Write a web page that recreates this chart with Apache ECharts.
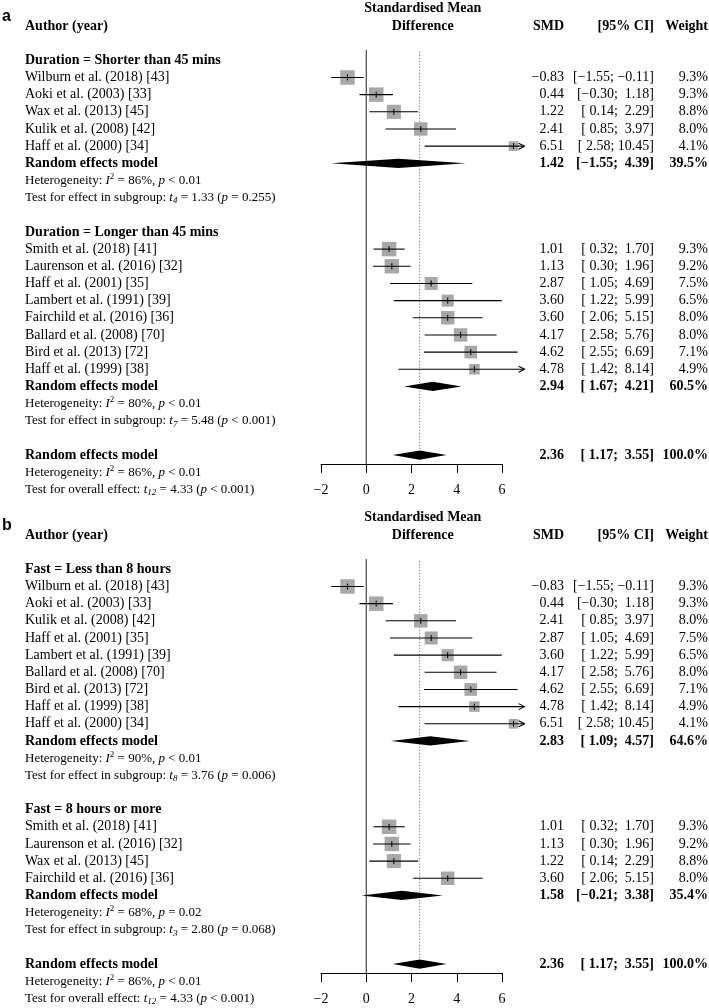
<!DOCTYPE html>
<html><head><meta charset="utf-8">
<script src="https://cdn.jsdelivr.net/npm/echarts@6/dist/echarts.min.js"></script>
<style>html,body{margin:0;padding:0;background:#fff}#c{width:709px;height:1008px}</style>
</head><body><div id="c"></div>
<script>
// ---------- data ----------
const studyNames = ['Wilburn et al. (2018) [43]','Aoki et al. (2003) [33]','Wax et al. (2013) [45]','Kulik et al. (2008) [42]','Haff et al. (2000) [34]','Smith et al. (2018) [41]','Laurenson et al. (2016) [32]','Haff et al. (2001) [35]','Lambert et al. (1991) [39]','Fairchild et al. (2016) [36]','Ballard et al. (2008) [70]','Bird et al. (2013) [72]','Haff et al. (1999) [38]'];
const studySMD    = [-0.83, 0.44, 1.22, 2.41, 6.51, 1.01, 1.13, 2.87, 3.60, 3.60, 4.17, 4.62, 4.78];
const studyLow    = [-1.55,-0.30, 0.14, 0.85, 2.58, 0.32, 0.30, 1.05, 1.22, 2.06, 2.58, 2.55, 1.42];
const studyHigh   = [-0.11, 1.18, 2.29, 3.97,10.45, 1.70, 1.96, 4.69, 5.99, 5.15, 5.76, 6.69, 8.14];
const studyWeight = [ 9.3, 9.3, 8.8, 8.0, 4.1, 9.3, 9.2, 7.5, 6.5, 8.0, 8.0, 7.1, 4.9];

// panel a subgroups
const groupLabelsA  = ['Duration = Shorter than 45 mins','Duration = Longer than 45 mins'];
const groupMembersA = [[0,1,2,3,4],[5,6,7,8,9,10,11,12]];
const groupSMDA  = [1.42, 2.94];
const groupLowA  = [-1.55, 1.67];
const groupHighA = [4.39, 4.21];
const groupWA    = [39.5, 60.5];
const groupI2A   = [86, 80];
const groupHetPA = ['< 0.01','< 0.01'];
const groupDfA   = [4, 7];
const groupTA    = [1.33, 5.48];
const groupTPA   = ['= 0.255','< 0.001'];

// panel b subgroups
const groupLabelsB  = ['Fast = Less than 8 hours','Fast = 8 hours or more'];
const groupMembersB = [[0,1,3,7,8,10,11,12,4],[5,6,2,9]];
const groupSMDB  = [2.83, 1.58];
const groupLowB  = [1.09, -0.21];
const groupHighB = [4.57, 3.38];
const groupWB    = [64.6, 35.4];
const groupI2B   = [90, 68];
const groupHetPB = ['< 0.01','= 0.02'];
const groupDfB   = [8, 3];
const groupTB    = [3.76, 2.80];
const groupTPB   = ['= 0.006','= 0.068'];

// overall
const overallSMD = 2.36, overallLow = 1.17, overallHigh = 3.55, overallW = 100.0;
const overallI2 = 86, overallHetP = '< 0.01', overallDf = 12, overallT = 4.33, overallTP = '< 0.001';

const xTicks = [-2, 0, 2, 4, 6];
const xLimHigh = 7;

// ---------- layout ----------
const SERIF = "'Liberation Serif','Times New Roman',serif";
const SANS = "'Liberation Sans',Arial,sans-serif";
const AXIS_ROW = 25.52;
const COL_LEFT = 25, COL_SMD = 564, COL_CI = 654, COL_W = 708;

function num(v){ return (v < 0 ? '\u2212' : '') + Math.abs(v).toFixed(2); }
function ci(lo, hi){
  const l = (lo >= 0 ? ' ' : '') + num(lo);
  const h = (hi >= 0 && hi < 10 ? ' ' : '') + num(hi);
  return '[' + l + '; ' + h + ']';
}
function wt(w){ return w.toFixed(1) + '%'; }

function buildRows(panelLetter, labels, members, gS, gL, gH, gW, gI2, gHP, gDf, gT, gTP){
  const rows = [{kind:'vlines', row:0}, {kind:'header', row:0, letter:panelLetter}];
  let row = 2;
  for (let g = 0; g < labels.length; g++){
    rows.push({kind:'group', row:row++, label:labels[g]});
    members[g].forEach(i => rows.push({kind:'study', row:row++, idx:i}));
    rows.push({kind:'pooled', row:row++, smd:gS[g], lo:gL[g], hi:gH[g], w:gW[g]});
    rows.push({kind:'stat', row:row++, text:'Heterogeneity: {i|I}{sup|2} = ' + gI2[g] + '%, {i|p} ' + gHP[g]});
    rows.push({kind:'stat', row:row++, text:'Test for effect in subgroup: {i|t}{sub|' + gDf[g] + '} = ' + gT[g].toFixed(2) + ' ({i|p} ' + gTP[g] + ')'});
    row++;
  }
  rows.push({kind:'pooled', row:row++, smd:overallSMD, lo:overallLow, hi:overallHigh, w:overallW});
  rows.push({kind:'stat', row:row++, text:'Heterogeneity: {i|I}{sup|2} = ' + overallI2 + '%, {i|p} ' + overallHetP});
  rows.push({kind:'stat', row:row++, text:'Test for overall effect: {i|t}{sub|' + overallDf + '} = ' + overallT.toFixed(2) + ' ({i|p} ' + overallTP + ')'});
  return rows;
}

const rowsA = buildRows('a', groupLabelsA, groupMembersA, groupSMDA, groupLowA, groupHighA, groupWA, groupI2A, groupHetPA, groupDfA, groupTA, groupTPA);
const rowsB = buildRows('b', groupLabelsB, groupMembersB, groupSMDB, groupLowB, groupHighB, groupWB, groupI2B, groupHetPB, groupDfB, groupTB, groupTPB);

const richStat = {
  i:   {fontStyle:'italic', fontSize:13, fontFamily:SERIF, lineHeight:16},
  sup: {fontSize:9, fontFamily:SERIF, lineHeight:9, verticalAlign:'top'},
  sub: {fontSize:9, fontStyle:'italic', fontFamily:SERIF, lineHeight:8, verticalAlign:'bottom'}
};

function makeRender(rows){
  return function(params, api){
    const r = rows[params.dataIndex];
    const Y = rr => api.coord([0, rr])[1];
    const X = v => api.coord([v, r.row])[0];
    const y = Y(r.row);
    const ch = [];
    const text = (t, x, yy, align, bold, size, extra) => ch.push({type:'text', silent:true, style:Object.assign({
      text:t, x:x, y:yy, align:align, verticalAlign:'middle', fill:'#000',
      fontSize:size || 14, fontFamily:SERIF, fontWeight:bold ? 'bold' : 'normal'}, extra || {})});
    const line = (x1,y1,x2,y2,w,dash,col) => ch.push({type:'line', silent:true, shape:{x1,y1,x2,y2},
      style:{stroke:col || '#000', lineWidth:w || 1, lineDash:dash || null}});

    if (r.kind === 'vlines'){
      const yBottom = Y(AXIS_ROW);
      line(X(0), Y(1.4), X(0), yBottom, 1, null, '#222');
      line(X(overallSMD), Y(1.5), X(overallSMD), Y(24.72), 1, [1,2], '#555');
    } else if (r.kind === 'header'){
      text(r.letter, 2, Y(-0.52), 'left', true, 16, {fontFamily:SANS});
      text('Standardised Mean', X(2.5), Y(-1), 'center', true);
      text('Difference', X(2.5), y, 'center', true);
      text('Author (year)', COL_LEFT, y, 'left', true);
      text('SMD', COL_SMD, y, 'right', true);
      text('[95% CI]', COL_CI, y, 'right', true);
      text('Weight', COL_W, y, 'right', true);
    } else if (r.kind === 'group'){
      text(r.label, COL_LEFT, y, 'left', true);
    } else if (r.kind === 'study'){
      const i = r.idx;
      const s = 14.5 * Math.sqrt(studyWeight[i] / 9.3);
      const xc = X(studySMD[i]);
      ch.push({type:'rect', silent:true, shape:{x:xc - s/2, y:y - s/2, width:s, height:s}, style:{fill:'#a8a8a8'}});
      const hiClip = Math.min(studyHigh[i], xLimHigh);
      line(X(studyLow[i]), y, X(hiClip), y, 1.1);
      if (studyHigh[i] > xLimHigh){
        const xa = X(xLimHigh);
        line(xa, y, xa - 6, y - 3, 1.1);
        line(xa, y, xa - 6, y + 3, 1.1);
      }
      line(xc, y - 3, xc, y + 3, 1);
      text(studyNames[i], COL_LEFT, y, 'left', false);
      text(num(studySMD[i]), COL_SMD, y, 'right', false);
      text(ci(studyLow[i], studyHigh[i]), COL_CI, y, 'right', false);
      text(wt(studyWeight[i]), COL_W, y, 'right', false);
    } else if (r.kind === 'pooled'){
      const h = 4.6;
      ch.push({type:'polygon', silent:true, shape:{points:[[X(r.lo), y],[X(r.smd), y - h],[X(r.hi), y],[X(r.smd), y + h]]}, style:{fill:'#000'}});
      text('Random effects model', COL_LEFT, y, 'left', true);
      text(num(r.smd), COL_SMD, y, 'right', true);
      text(ci(r.lo, r.hi), COL_CI, y, 'right', true);
      text(wt(r.w), COL_W, y, 'right', true);
    } else if (r.kind === 'stat'){
      text(r.text, COL_LEFT, y, 'left', false, 13, {rich:richStat, lineHeight:16});
    }
    return {type:'group', children:ch};
  };
}

function xAxisFor(gi){
  return {
    type:'value', gridIndex:gi, min:xTicks[0], max:xTicks[xTicks.length-1], interval:xTicks[1]-xTicks[0],
    position:'bottom',
    axisLine:{show:true, onZero:false, lineStyle:{color:'#000', width:1}},
    axisTick:{show:true, length:9, lineStyle:{color:'#000', width:1}},
    axisLabel:{color:'#000', fontSize:14, fontFamily:SERIF, margin:19,
      formatter:v => (v < 0 ? '\u2212' + (-v) : String(v))},
    splitLine:{show:false}
  };
}
function yAxisFor(gi){
  return {type:'value', gridIndex:gi, inverse:true, min:0, max:AXIS_ROW, show:false, splitLine:{show:false}};
}

const chart = echarts.init(document.getElementById('c'), null, {renderer:'canvas'});
chart.setOption({
  animation:false,
  backgroundColor:'#fff',
  grid:[
    {left:321, width:181, top:26, height:438},
    {left:321, width:181, top:535, height:438}
  ],
  xAxis:[xAxisFor(0), xAxisFor(1)],
  yAxis:[yAxisFor(0), yAxisFor(1)],
  series:[
    {type:'custom', xAxisIndex:0, yAxisIndex:0, clip:false, silent:true,
      data:rowsA.map(r => [0, r.row]), encode:{x:0, y:1}, renderItem:makeRender(rowsA)},
    {type:'custom', xAxisIndex:1, yAxisIndex:1, clip:false, silent:true,
      data:rowsB.map(r => [0, r.row]), encode:{x:0, y:1}, renderItem:makeRender(rowsB)}
  ]
});
</script>
</body></html>
